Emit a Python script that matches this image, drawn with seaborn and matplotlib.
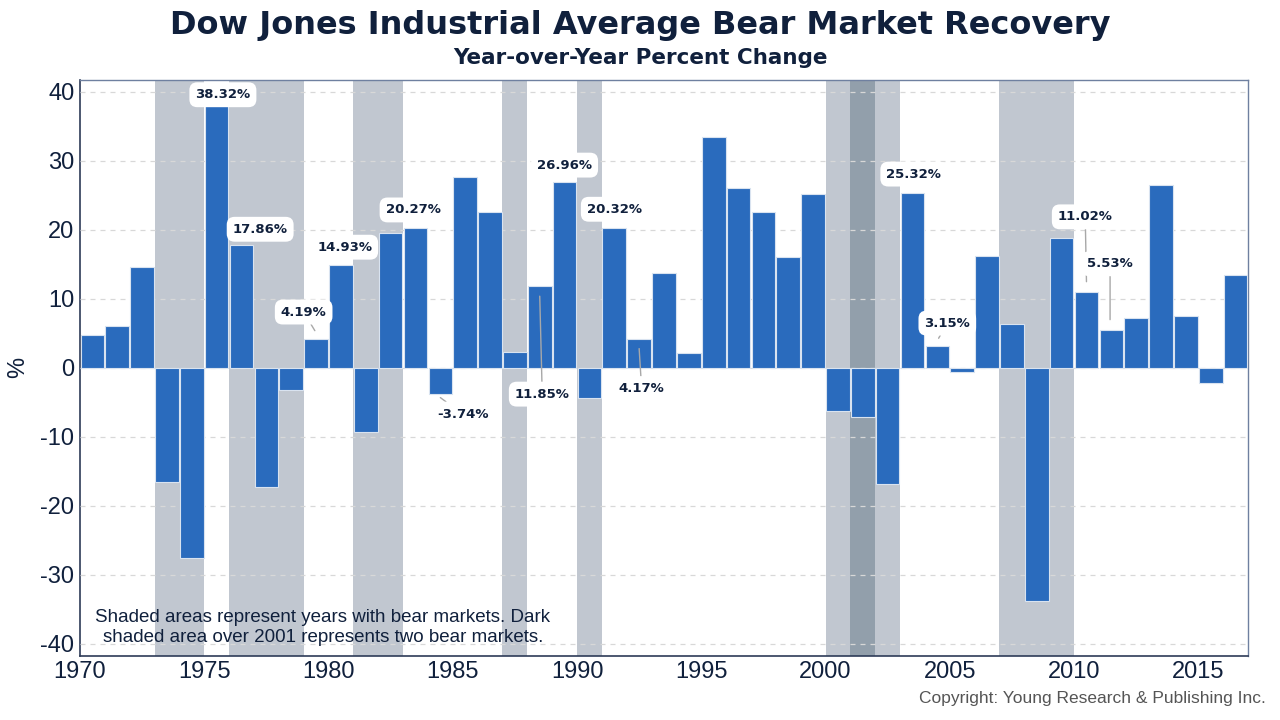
import numpy as np
import pandas as pd
import matplotlib
matplotlib.use("Agg")
import matplotlib.pyplot as plt
import seaborn as sns

# ---------------- data ----------------
years = list(range(1970, 2017))
values = [4.82, 6.11, 14.58, -16.58, -27.57, 38.32, 17.86, -17.27, -3.15, 4.19,
          14.93, -9.23, 19.60, 20.27, -3.74, 27.66, 22.58, 2.26, 11.85, 26.96,
          -4.34, 20.32, 4.17, 13.72, 2.14, 33.45, 26.01, 22.64, 16.10, 25.22,
          -6.18, -7.10, -16.76, 25.32, 3.15, -0.61, 16.29, 6.43, -33.84, 18.82,
          11.02, 5.53, 7.26, 26.50, 7.52, -2.23, 13.42]

bear_start = [1973, 1976, 1981, 1987, 1990, 2000, 2007]
bear_end = [1975, 1979, 1983, 1988, 1991, 2003, 2010]
double_bear_start = [2001]
double_bear_end = [2002]

labeled_years = [1975, 1976, 1979, 1980, 1983, 1984, 1988, 1989, 1991, 1992,
                 2003, 2004, 2010, 2011]

xtick_values = [1970, 1975, 1980, 1985, 1990, 1995, 2000, 2005, 2010, 2015]
ytick_values = [-40, -30, -20, -10, 0, 10, 20, 30, 40]

title = "Dow Jones Industrial Average Bear Market Recovery"
subtitle = "Year-over-Year Percent Change"
note = "Shaded areas represent years with bear markets. Dark\nshaded area over 2001 represents two bear markets."
copyright_text = "Copyright: Young Research & Publishing Inc."

# ---------------- style ----------------
sns.set_theme(style="white")
plt.rcParams['font.family'] = ['Liberation Sans', 'DejaVu Sans']

NAVY = "#10203c"
BAR = "#2a6bbd"
SHADE = "#c1c7d0"
DARK_SHADE = "#929fab"

fig = plt.figure(figsize=(12.8, 7.2), dpi=100)
ax = fig.add_axes([0.0625, 0.089, 0.9125, 0.8])

for s, e in zip(bear_start, bear_end):
    ax.axvspan(s, e, color=SHADE, lw=0, zorder=0)
for s, e in zip(double_bear_start, double_bear_end):
    ax.axvspan(s, e, color=DARK_SHADE, lw=0, zorder=0.5)

df = pd.DataFrame({"pos": np.array(years) + 0.5, "value": values})
sns.barplot(data=df, x="pos", y="value", native_scale=True, width=0.95,
            color=BAR, saturation=1, edgecolor="#d9e3f0", linewidth=0.8,
            ax=ax, zorder=3)

ax.set_xlim(1970, 2017)
ax.set_ylim(-41.75, 41.75)
ax.set_xticks(xtick_values)
ax.set_xticklabels([str(t) for t in xtick_values])
ax.set_yticks(ytick_values)
ax.set_yticklabels([str(t) for t in ytick_values])
ax.tick_params(axis='both', direction='in', length=5, width=1, color=NAVY,
               labelsize=17, labelcolor=NAVY, pad=4)
ax.set_xlabel("")
ax.set_ylabel("%", fontsize=17, color=NAVY, labelpad=8)

ax.grid(axis='y', color="#d8d8d8", linestyle=(0, (4, 4)), linewidth=0.9, zorder=1)
ax.set_axisbelow(False)
for gl in ax.get_ygridlines():
    gl.set_zorder(1)

for side in ['left', 'bottom']:
    ax.spines[side].set_color("#2d3b57")
    ax.spines[side].set_linewidth(1.2)
for side in ['top', 'right']:
    ax.spines[side].set_color("#6f80a0")
    ax.spines[side].set_linewidth(1.0)

# ---------------- annotations ----------------
val = dict(zip(years, values))
label_pos = {
    1975: ((1975.75, 39.6), None),
    1976: ((1977.25, 20.1), (1976.6, 18.6)),
    1979: ((1979.0, 8.1), (1979.45, 5.4)),
    1980: ((1980.65, 17.5), None),
    1983: ((1983.4, 22.9), None),
    1984: ((1985.4, -6.7), (1984.5, -4.3)),
    1988: ((1988.6, -3.8), (1988.5, 10.4)),
    1989: ((1989.5, 29.4), None),
    1991: ((1991.5, 23.0), None),
    1992: ((1992.6, -3.0), (1992.5, 2.8)),
    2003: ((2003.55, 28.1), None),
    2004: ((2004.9, 6.5), (2004.55, 4.3)),
    2010: ((2010.45, 21.9), (2010.5, 12.5)),
    2011: ((2011.45, 15.1), (2011.45, 7.0)),
}
for yr in labeled_years:
    (tx, ty), leader = label_pos[yr]
    txt = f"{val[yr]:.2f}%"
    bbox = dict(boxstyle="round,pad=0.45,rounding_size=0.6", fc="white", ec="none")
    if leader is None:
        ax.text(tx, ty, txt, ha="center", va="center", fontsize=9.5,
                fontweight="bold", color=NAVY, family=['DejaVu Sans'],
                bbox=bbox, zorder=6)
    else:
        ax.annotate(txt, xy=leader, xytext=(tx, ty), ha="center", va="center",
                    fontsize=9.5, fontweight="bold", color=NAVY,
                    family=['DejaVu Sans'], bbox=bbox, zorder=6,
                    arrowprops=dict(arrowstyle="-", color="#a8a8a8", lw=1.0,
                                    shrinkA=0, shrinkB=0))

ax.text(0.208, 0.018, note, transform=ax.transAxes, ha="center", va="bottom",
        fontsize=13.5, color=NAVY, linespacing=1.2, zorder=7)

fig.text(0.5, 0.964, title, ha="center", va="center", fontsize=23,
         fontweight="bold", color=NAVY, family=['DejaVu Sans'])
fig.text(0.5, 0.919, subtitle, ha="center", va="center", fontsize=15.5,
         fontweight="bold", color=NAVY, family=['DejaVu Sans'])
fig.text(0.989, 0.03, copyright_text, ha="right", va="center", fontsize=12.5,
         color="#555555")

fig.savefig("out.png", dpi=100)
